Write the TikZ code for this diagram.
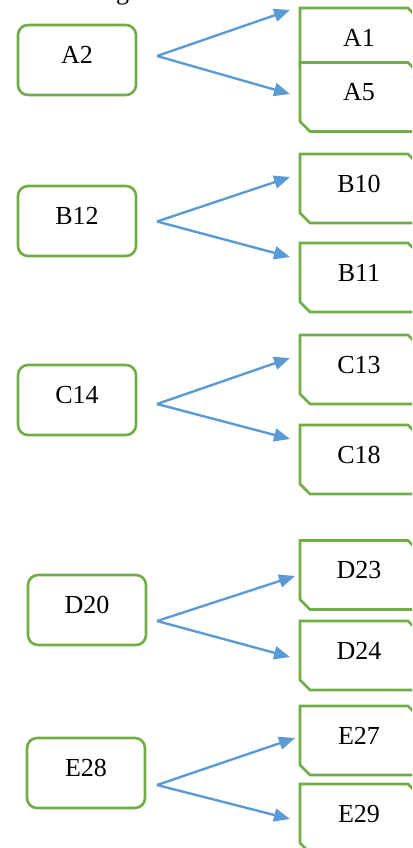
\documentclass[tikz,border=0pt]{standalone}
\usepackage{fontspec}
\setmainfont{Liberation Serif}
\usetikzlibrary{arrows.meta}
\definecolor{boxgreen}{HTML}{70AD47}
\definecolor{arrowblue}{HTML}{5B9BD5}
\begin{document}
\begin{tikzpicture}[x=1pt,y=-1pt,
  lbl/.style={font=\fontsize{26}{30}\selectfont, text height=18pt, text depth=10.5pt},
  srcbox/.style={lbl, draw=boxgreen, line width=2.6pt, rounded corners=10pt,
    minimum width=118pt, minimum height=70pt, inner sep=0pt, fill=white},
  dstbox/.style={lbl, minimum width=118pt, minimum height=69pt, inner sep=0pt},
  dstline/.style={draw=boxgreen, line width=2.6pt, fill=white},
  dstshape/.pic={\path[dstline] (-59,-34.5) -- (49,-34.5) -- (59,-24.5) -- (59,34.5)
      -- (-49,34.5) -- (-59,24.5) -- cycle;},
  link/.style={draw=arrowblue, line width=2.4pt, -{Triangle[length=16pt,width=13pt]}}
]
\useasboundingbox (0,0) rectangle (412,848);
\clip (0,0) rectangle (412,848);

% clipped fragment of a caption line above
\node[font=\fontsize{26}{30}\selectfont, anchor=base, inner sep=0pt] (gfrag) at (122.5,-0.5) {g};

% source boxes
\node[srcbox] (A2) at (77,60) {A2};
\node[srcbox] (B12) at (77,221) {B12};
\node[srcbox] (C14) at (77,400) {C14};
\node[srcbox] (D20) at (87,610) {D20};
\node[srcbox] (E28) at (86,773) {E28};

% target boxes
\pic at (359,42.5) {dstshape}; \node[dstbox] (A1) at (359,42.5) {A1};
\pic at (359,97) {dstshape};   \node[dstbox] (A5) at (359,97) {A5};
\pic at (359,188.5) {dstshape}; \node[dstbox] (B10) at (359,188.5) {B10};
\pic at (359,277.5) {dstshape}; \node[dstbox] (B11) at (359,277.5) {B11};
\pic at (359,369.5) {dstshape}; \node[dstbox] (C13) at (359,369.5) {C13};
\pic at (359,459.5) {dstshape}; \node[dstbox] (C18) at (359,459.5) {C18};
\pic at (359,575) {dstshape};   \node[dstbox] (D23) at (359,575) {D23};
\pic at (359,655.5) {dstshape}; \node[dstbox] (D24) at (359,655.5) {D24};
\pic at (359,740.5) {dstshape}; \node[dstbox] (E27) at (359,740.5) {E27};
\pic at (359,818.5) {dstshape}; \node[dstbox] (E29) at (359,818.5) {E29};

% fork points and arrow ends
\coordinate (oA) at (157,56);
\coordinate (oB) at (157,221.5);
\coordinate (oC) at (157,404);
\coordinate (oD) at (157,621);
\coordinate (oE) at (157,785);
\coordinate (tA1) at (290,10);
\coordinate (tA5) at (290,94);
\coordinate (tB10) at (290,177);
\coordinate (tB11) at (290,257);
\coordinate (tC13) at (290,358);
\coordinate (tC18) at (290,439);
\coordinate (tD23) at (295,576);
\coordinate (tD24) at (290,657);
\coordinate (tE27) at (295,738);
\coordinate (tE29) at (290,819);

\draw[link] (oA) -- (tA1);
\draw[link] (oA) -- (tA5);
\draw[link] (oB) -- (tB10);
\draw[link] (oB) -- (tB11);
\draw[link] (oC) -- (tC13);
\draw[link] (oC) -- (tC18);
\draw[link] (oD) -- (tD23);
\draw[link] (oD) -- (tD24);
\draw[link] (oE) -- (tE27);
\draw[link] (oE) -- (tE29);
\end{tikzpicture}
\end{document}
